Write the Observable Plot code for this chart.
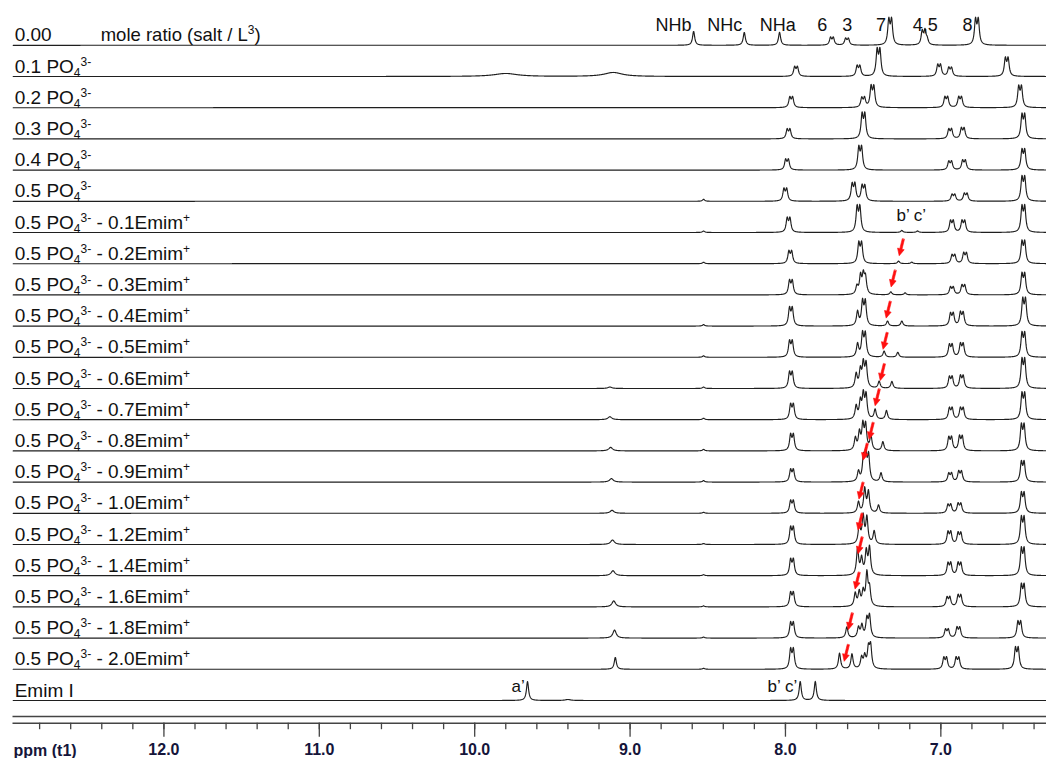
<!DOCTYPE html>
<html><head><meta charset="utf-8">
<script src="https://cdn.jsdelivr.net/npm/d3@7"></script>
<script src="https://cdn.jsdelivr.net/npm/@observablehq/plot@0.6"></script>
<style>html,body{margin:0;padding:0;background:#fff;} svg{display:block}</style>
</head><body><div id="chart"></div>
<script>
// ---------------- data ----------------
// row labels, top to bottom (_{..} subscript, ^{..} superscript)
const rowLabels = [
  "0.00",
  "0.1 PO_{4}^{3-}", "0.2 PO_{4}^{3-}", "0.3 PO_{4}^{3-}", "0.4 PO_{4}^{3-}", "0.5 PO_{4}^{3-}",
  "0.5 PO_{4}^{3-} - 0.1Emim^{+}", "0.5 PO_{4}^{3-} - 0.2Emim^{+}", "0.5 PO_{4}^{3-} - 0.3Emim^{+}",
  "0.5 PO_{4}^{3-} - 0.4Emim^{+}", "0.5 PO_{4}^{3-} - 0.5Emim^{+}", "0.5 PO_{4}^{3-} - 0.6Emim^{+}",
  "0.5 PO_{4}^{3-} - 0.7Emim^{+}", "0.5 PO_{4}^{3-} - 0.8Emim^{+}", "0.5 PO_{4}^{3-} - 0.9Emim^{+}",
  "0.5 PO_{4}^{3-} - 1.0Emim^{+}", "0.5 PO_{4}^{3-} - 1.2Emim^{+}", "0.5 PO_{4}^{3-} - 1.4Emim^{+}",
  "0.5 PO_{4}^{3-} - 1.6Emim^{+}", "0.5 PO_{4}^{3-} - 1.8Emim^{+}", "0.5 PO_{4}^{3-} - 2.0Emim^{+}",
  "Emim I"
];
const headerText = "mole ratio (salt / L^{3})";

// peaks of each spectrum: [ppm, height, kind]; kind: none = doublet, "s" = singlet, number = broad (HWHM in ppm)
const r00 = [[8.591,14,"s"],[8.265,13,"s"],[8.038,13,"s"],[7.701,8],[7.604,7],[7.326,27],[7.111,15],[7.088,5,"s"],[6.768,27]];
const r01 = [[9.80,3,0.09],[9.108,4,0.07],[7.932,10],[7.530,11],[7.401,28],[7.011,12],[6.940,9],[6.576,19]];
const r02 = [[7.963,11],[7.500,10],[7.440,22],[6.965,11],[6.876,11],[6.490,22]];
const r03 = [[7.980,10],[7.498,26],[6.940,10],[6.859,11],[6.469,25]];
const r04 = [[7.990,11],[7.519,24],[6.940,9],[6.851,10],[6.469,21]];
const r05 = [[8.527,2,"s"],[8.001,13],[7.562,18],[7.498,16],[6.919,7],[6.840,8],[6.469,25]];
const r06 = [[8.527,1.5,"s"],[7.980,15],[7.530,27],[7.251,2,"s"],[7.150,1.5,"s"],[6.929,12],[6.855,12],[6.469,27]];
const r07 = [[8.527,1.5,"s"],[7.969,13],[7.519,22],[7.272,2.5,"s"],[7.187,1.5,"s"],[6.919,9],[6.844,11],[6.469,23]];
const r08 = [[7.965,15],[7.540,8,"s"],[7.508,20],[7.485,16,"s"],[7.322,3,"s"],[7.230,2,"s"],[6.929,8],[6.855,10],[6.469,22]];
const r09 = [[8.527,1.5,"s"],[7.965,19],[7.536,14,"s"],[7.495,26],[7.343,5,"s"],[7.251,5,"s"],[6.929,13],[6.865,14],[6.464,28]];
const r10 = [[8.527,1.5,"s"],[7.965,17],[7.536,13,"s"],[7.495,25],[7.365,6,"s"],[7.277,5,"s"],[6.936,13],[6.865,14],[6.469,25]];
const r11 = [[9.13,1.5,0.015],[8.527,1.5,"s"],[7.965,17],[7.545,14,"s"],[7.518,17,"s"],[7.490,26],[7.397,7,"s"],[7.315,7,"s"],[6.936,12],[6.865,13],[6.469,30]];
const r12 = [[9.13,3,0.015],[8.527,1.5,"s"],[7.958,16],[7.545,13,"s"],[7.518,17,"s"],[7.490,26],[7.423,10,"s"],[7.350,9,"s"],[6.936,12],[6.865,12],[6.469,27]];
const r13 = [[9.125,3.5,0.015],[8.527,1.5,"s"],[7.958,17],[7.550,12,"s"],[7.524,17,"s"],[7.493,27],[7.450,14,"s"],[7.373,9,"s"],[6.940,14],[6.871,15],[6.473,27]];
const r14 = [[9.12,3.5,0.015],[8.527,1.5,"s"],[7.958,13],[7.530,10,"s"],[7.498,22,"s"],[7.474,28],[7.385,9,"s"],[6.940,9],[6.876,11],[6.473,21]];
const r15 = [[9.116,3,0.015],[8.527,1,"s"],[7.958,13],[7.530,11,"s"],[7.490,24,"s"],[7.466,21,"s"],[7.401,8,"s"],[6.945,9],[6.880,10],[6.473,21]];
const r16 = [[9.113,4.5,0.015],[8.527,1,"s"],[7.958,18],[7.525,18,"s"],[7.500,27,"s"],[7.476,26,"s"],[7.429,13,"s"],[6.945,13],[6.880,12],[6.473,28]];
const r17 = [[9.11,5,0.015],[8.527,1,"s"],[7.958,17],[7.536,26,"s"],[7.510,16,"s"],[7.480,23,"s"],[7.459,27,"s"],[6.945,13],[6.880,13],[6.473,28]];
const r18 = [[9.105,6,0.014],[8.527,1,"s"],[7.958,15],[7.551,13,"s"],[7.525,14,"s"],[7.500,14,"s"],[7.476,32,"s"],[7.459,17,"s"],[6.951,10],[6.880,12],[6.473,23]];
const r19 = [[9.10,8,0.013],[8.527,1,"s"],[7.958,16],[7.605,11,"s"],[7.530,10,"s"],[7.508,12,"s"],[7.476,18,"s"],[7.459,21,"s"],[6.961,9],[6.887,11],[6.495,17]];
const r20 = [[9.095,12,"s"],[8.527,1,"s"],[7.958,21],[7.652,16,"s"],[7.572,15,"s"],[7.510,11,"s"],[7.490,12,"s"],[7.466,19,"s"],[7.452,22,"s"],[6.972,12],[6.893,12],[6.511,22]];
const r21 = [[9.660,19,"s"],[9.40,1,0.02],[7.905,19,"s"],[7.808,19,"s"]];
const rowPeaks = [r00,r01,r02,r03,r04,r05,r06,r07,r08,r09,r10,r11,r12,r13,r14,r15,r16,r17,r18,r19,r20,r21];

// peak assignments on the top spectrum
const assignText = ["NHb","NHc","NHa","6","3","7","4,5","8"];
const assignPpm  = [8.72, 8.39, 8.05, 7.763, 7.603, 7.385, 7.10, 6.828];
// Emim labels
const emimText = ["a\u2019", "b\u2019 c\u2019"];
const emimPpm  = [9.72, 8.02];
const bcText = "b\u2019 c\u2019";
const bcPpm = 7.19;            // over the 0.1Emim+ spectrum
// red arrows: row index and ppm of the tracked b' peak
const arrowRow = [7,8,9,10,11,12,13,14,15,16,17,18,19,20];
const arrowPpm = [7.268,7.320,7.352,7.372,7.390,7.423,7.462,7.500,7.527,7.533,7.533,7.552,7.596,7.622];
// axis ticks
const majorTicks = [12.0, 11.0, 10.0, 9.0, 8.0, 7.0];
const axisLabel = "ppm (t1)";

// ---------------- layout ----------------
const W = 1046, H = 758;
const nRows = rowLabels.length;
const rowGap = 31.2;                       // vertical offset between stacked spectra
const offset = i => (nRows - 1 - i) * rowGap;
const xDomain = [12.97, 6.32];
const minorTicks = d3.range(6.4, 12.81, 0.2).map(v => +v.toFixed(1));

function expand(peaks) {
  const out = [];
  for (const [c, h, k] of peaks) {
    if (k === undefined) { const a = h / 1.12; out.push([c - 0.009, a, 0.008], [c + 0.009, a, 0.008]); }
    else if (k === "s") out.push([c, h, 0.0082]);
    else out.push([c, h, k]);
  }
  return out;
}
const rowLines = rowPeaks.map(expand);
const intensity = (lines, x) => { let s = 0; for (const [c, a, w] of lines) { const d = (x - c) / w; s += a / (1 + d * d); } return s; };

const step = 0.002;
const grid = d3.range(0, Math.round((xDomain[0] - xDomain[1]) / step) + 1).map(i => xDomain[1] + i * step);
const points = [];
rowLines.forEach((lines, i) => {
  for (const x of grid) points.push({row: i, ppm: x, v: offset(i) + intensity(lines, x)});
});

const labelRows = rowLabels.map((t, i) => ({t, y: offset(i)}));
const assign = assignText.map((t, i) => ({t, ppm: assignPpm[i]}));
const emim = emimText.map((t, i) => ({t, ppm: emimPpm[i]}));
const arrows = arrowRow.map((r, i) => {
  const rise = Math.min(22, Math.max(8, intensity(rowLines[r], arrowPpm[i]) + 3));
  return {ppm: arrowPpm[i], y: offset(r) + rise};
});

const redArrow = {
  draw(context, l) {
    const hw = 3.4, hl = 7, sw = 1.1;
    context.moveTo(-sw, 0);
    context.lineTo(-sw, -l + hl);
    context.lineTo(-hw, -l + hl);
    context.lineTo(0, -l);
    context.lineTo(hw, -l + hl);
    context.lineTo(sw, -l + hl);
    context.lineTo(sw, 0);
    context.closePath();
  }
};

const FONT = "'Liberation Sans', Arial, Helvetica, sans-serif";
const chart = Plot.plot({
  width: W, height: H,
  marginLeft: 12.7, marginRight: 0, marginTop: 0, marginBottom: 35.3,
  style: {fontFamily: FONT, fontSize: "18px", background: "#fff", color: "#000"},
  x: {domain: xDomain},
  y: {domain: [-22.7, 700], axis: null},
  marks: [
    Plot.frame({anchor: "bottom", stroke: "#444", strokeWidth: 1.4}),
    Plot.frame({anchor: "bottom", stroke: "#444", strokeWidth: 1.4, dy: -6.7}),
    Plot.axisX(minorTicks, {anchor: "bottom", tickSize: 6.5, tickFormat: () => "", stroke: "#444", strokeWidth: 1.3, label: null}),
    Plot.axisX(majorTicks, {anchor: "bottom", tickSize: 14, tickPadding: 6, tickFormat: d3.format(".1f"),
      stroke: "#444", strokeWidth: 1.3, fill: "#15153a", fontSize: 16, fontWeight: "bold", label: null}),
    Plot.text([axisLabel], {frameAnchor: "bottom-left", text: d => d, textAnchor: "start", lineAnchor: "bottom",
      dy: 32.3, dx: 0.3, fontSize: 16, fontWeight: "bold", fill: "#15153a"}),
    Plot.line(points, {x: "ppm", y: "v", z: "row", stroke: "#1f1f1f", strokeWidth: 1.15}),
    Plot.text(labelRows, {frameAnchor: "left", y: "y", text: "t", textAnchor: "start", lineAnchor: "bottom",
      dx: 1.5, dy: -4, fontSize: 19, fill: "#111"}),
    Plot.text([headerText], {frameAnchor: "left", y: offset(0), text: d => d, textAnchor: "start", lineAnchor: "bottom",
      dx: 87.5, dy: -4, fontSize: 18.5, fill: "#111"}),
    Plot.text(assign, {x: "ppm", y: offset(0), text: "t", lineAnchor: "middle", dy: -20, fontSize: 18, fill: "#111"}),
    Plot.text([bcText], {x: bcPpm, y: offset(6), text: d => d, lineAnchor: "middle", dy: -17, fontSize: 17, fill: "#111"}),
    Plot.text(emim, {x: "ppm", y: offset(nRows - 1), text: "t", lineAnchor: "middle", dy: -14, fontSize: 17, fill: "#111"}),
    Plot.vector(arrows, {x: "ppm", y: "y", length: 17, rotate: 194, anchor: "end", shape: redArrow,
      fill: "#ff1010", stroke: "#ff1010", strokeWidth: 0.6})
  ]
});

// turn _{..} / ^{..} markup into real sub/superscript tspans
function richText(svg) {
  svg.querySelectorAll("text").forEach(t => {
    const s = t.textContent;
    if (!/[_^]\{/.test(s)) return;
    t.textContent = "";
    const parts = s.split(/(_\{[^}]*\}|\^\{[^}]*\})/).filter(p => p);
    let shift = 0;
    for (const p of parts) {
      const ts = document.createElementNS("http://www.w3.org/2000/svg", "tspan");
      let target = 0, txt = p;
      if (p.startsWith("_{")) { target = 4; txt = p.slice(2, -1); ts.setAttribute("font-size", "12"); }
      else if (p.startsWith("^{")) { target = -7; txt = p.slice(2, -1); ts.setAttribute("font-size", "12"); }
      if (target !== shift) ts.setAttribute("dy", target - shift);
      shift = target;
      ts.textContent = txt;
      t.appendChild(ts);
    }
  });
}
richText(chart);
document.getElementById("chart").appendChild(chart);
</script>
</body></html>
